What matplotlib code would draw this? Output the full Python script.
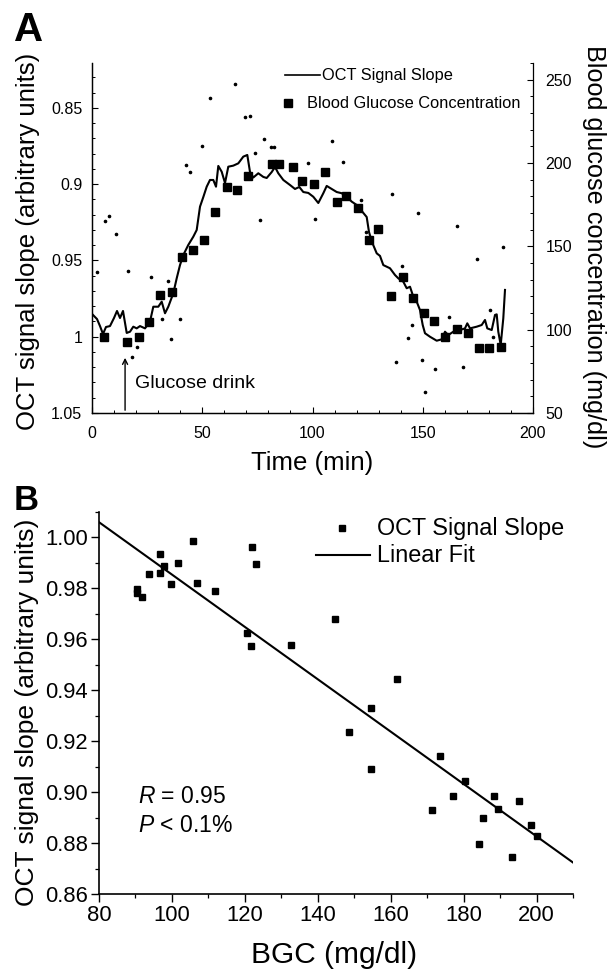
import numpy as np
import matplotlib
matplotlib.use("Agg")
import matplotlib.pyplot as plt
from matplotlib.ticker import MultipleLocator, FixedLocator

plt.rcParams['font.family'] = ['Liberation Sans', 'DejaVu Sans']
plt.rcParams['mathtext.fontset'] = 'custom'
plt.rcParams['mathtext.it'] = 'Liberation Sans:italic'
plt.rcParams['mathtext.rm'] = 'Liberation Sans'

# ---------------- Panel A data ----------------
oct_time = [0.45, 2.27, 3.63, 4.99, 6.35, 8.16, 9.98, 11.34, 12.70, 14.06, 15.74, 17.23,
            18.73, 20.27, 21.77, 24.04, 26.30, 27.80, 30.07, 31.61, 33.11, 34.60, 36.87,
            38.41, 39.91, 41.41, 43.67, 45.94, 47.48, 48.98, 50.48, 52.02, 53.51, 55.01,
            56.24, 57.28, 58.82, 60.32, 61.81, 64.08, 66.35, 68.62, 70.43, 71.66, 73.15,
            75.42, 77.69, 79.23, 81.50, 83.00, 84.49, 86.76, 89.80, 92.06, 94.01, 95.83,
            98.10, 100.36, 102.63, 104.90, 106.44, 108.71, 110.98, 113.24, 115.51, 117.78,
            120.05, 122.31, 124.58, 125.62, 126.98, 129.12, 130.61, 132.11, 135.15, 137.41,
            138.91, 141.18, 142.72, 144.22, 145.71, 147.26, 148.75, 149.98, 151.02, 153.29,
            156.33, 158.59, 160.09, 161.59, 163.85, 166.89, 169.16, 170.20, 171.43, 174.47,
            176.73, 178.23, 179.27, 181.27, 182.77, 183.54, 184.26, 185.35, 186.53, 187.30]
oct_slope = [0.9857, 0.9884, 0.9930, 0.9982, 0.9936, 0.9930, 0.9877, 0.9831, 0.9877, 0.9831,
             0.9975, 0.9967, 0.9934, 0.9945, 0.9930, 0.9945, 0.9901, 0.9803, 0.9803, 0.9770,
             0.9846, 0.9803, 0.9715, 0.9617, 0.9530, 0.9464, 0.9398, 0.9344, 0.9300, 0.9147,
             0.9084, 0.9016, 0.8972, 0.8972, 0.9016, 0.8880, 0.8918, 0.8992, 0.8885, 0.8878,
             0.8863, 0.8819, 0.8808, 0.8920, 0.8956, 0.8928, 0.8952, 0.8959, 0.8920, 0.8887,
             0.8928, 0.8972, 0.9005, 0.9031, 0.9018, 0.9051, 0.9057, 0.9082, 0.9123, 0.9059,
             0.9011, 0.9031, 0.9051, 0.9059, 0.9082, 0.9114, 0.9136, 0.9175, 0.9215, 0.9313,
             0.9379, 0.9453, 0.9470, 0.9530, 0.9551, 0.9595, 0.9617, 0.9639, 0.9682, 0.9672,
             0.9737, 0.9770, 0.9825, 0.9923, 0.9977, 1.0000, 1.0026, 1.0017, 0.9967, 0.9989,
             0.9967, 0.9956, 0.9945, 0.9912, 0.9945, 0.9934, 0.9923, 0.9890, 0.9945, 0.9956,
             0.9857, 0.9853, 0.9967, 1.0054, 0.9879, 0.9693]

raw_time = [5.90, 7.85, 10.79, 2.27, 16.46, 26.67, 34.47, 31.75, 40.05, 35.96, 20.50, 18.28,
            42.49, 44.44, 49.75, 53.33, 64.99, 69.39, 71.43, 73.92, 76.19, 78.14, 81.04,
            82.54, 98.10, 101.36, 109.07, 113.61, 122.22, 136.19, 147.80, 165.40, 124.26,
            174.47, 186.53, 140.45, 161.90, 180.32, 145.35, 143.17, 137.78, 149.66, 155.56,
            168.03, 151.20, 182.00]
raw_slope = [0.9241, 0.9211, 0.9326, 0.9573, 0.9567, 0.9606, 0.9634, 0.9884, 0.9884, 1.0013,
             1.0065, 1.0131, 0.8871, 0.8923, 0.8751, 0.8436, 0.8345, 0.8562, 0.8550, 0.8793,
             0.9234, 0.8701, 0.8759, 0.8759, 0.8863, 0.9225, 0.8714, 0.8857, 0.9103, 0.9062,
             0.9190, 0.9274, 0.9311, 0.9488, 0.9411, 0.9533, 0.9869, 0.9825, 0.9920, 1.0008,
             1.0166, 1.0152, 1.0211, 1.0198, 1.0360, 1.0000]

bgc_time = [5.6, 15.7, 21.4, 25.9, 30.9, 36.3, 40.8, 45.9, 50.8, 55.8, 61.2, 65.8, 70.7,
            81.6, 84.8, 91.3, 95.1, 100.7, 105.7, 110.9, 115.4, 120.6, 125.6, 129.9, 135.6,
            140.9, 145.7, 150.7, 155.2, 160.1, 165.4, 170.7, 175.5, 180.2, 185.3]
bgc_value = [95.5, 92.5, 95.5, 104.5, 120.7, 122.3, 143.3, 147.9, 153.9, 170.7, 185.4, 183.9,
             192.3, 199.5, 199.5, 197.6, 188.9, 187.4, 194.7, 176.5, 180.0, 172.9, 153.5,
             160.5, 120.3, 131.5, 118.9, 110.2, 105.4, 95.8, 100.3, 97.9, 88.9, 88.9, 89.8]

a_xticks = [0, 50, 100, 150, 200]
a_left_ticks = [0.85, 0.9, 0.95, 1.0, 1.05]
a_left_labels = ['0.85', '0.9', '0.95', '1', '1.05']
a_right_ticks = [50, 100, 150, 200, 250]
drink_time = 15

# ---------------- Panel B data ----------------
b_bgc = [90.4, 90.5, 91.7, 93.7, 96.8, 96.8, 97.9, 99.8, 101.8, 105.9, 106.8, 111.9, 120.6,
         121.7, 122.0, 123.0, 132.7, 144.7, 161.6, 154.5, 148.5, 154.5, 173.5, 180.3, 177.2,
         171.3, 188.3, 195.3, 189.4, 185.2, 198.4, 200.2, 184.2, 193.2]
b_slope = [0.9796, 0.9783, 0.9768, 0.9857, 0.9935, 0.9860, 0.9886, 0.9818, 0.9900, 0.9985,
           0.9823, 0.9790, 0.9626, 0.9573, 0.9964, 0.9896, 0.9576, 0.9678, 0.9444, 0.9331,
           0.9236, 0.9090, 0.9141, 0.9043, 0.8984, 0.8929, 0.8985, 0.8964, 0.8934, 0.8897,
           0.8869, 0.8827, 0.8797, 0.8745]
fit_intercept_at_80 = 1.0060
fit_slope = -0.001028
fit_x = [80, 210]
b_xticks = [80, 100, 120, 140, 160, 180, 200]
b_yticks = [0.86, 0.88, 0.90, 0.92, 0.94, 0.96, 0.98, 1.00]

# ---------------- Figure ----------------
fig = plt.figure(figsize=(6.08, 9.75), dpi=100)
W, H = 608, 975

def ax_rect(l, r, t, b):
    return [l / W, 1 - b / H, (r - l) / W, (b - t) / H]

# Panel A
ax = fig.add_axes(ax_rect(92, 533, 63, 413))
ax2 = ax.twinx()
ax.set_xlim(0, 200)
ax.set_ylim(1.05, 0.8205)
ax2.set_ylim(50, 260)

ax.plot(raw_time, raw_slope, linestyle='none', marker='o', ms=1.6, color='black', zorder=2)
ax.plot(oct_time, oct_slope, color='black', lw=1.5, zorder=3)
ax2.plot(bgc_time, bgc_value, linestyle='none', marker='s', ms=6.2, color='black', zorder=4)

ax.spines['top'].set_visible(False)
ax2.spines['top'].set_visible(False)
ax.spines['right'].set_visible(False)
for a in (ax, ax2):
    for s in a.spines.values():
        s.set_linewidth(0.9)

ax.xaxis.set_major_locator(FixedLocator(a_xticks))
ax.xaxis.set_minor_locator(MultipleLocator(10))
ax.yaxis.set_major_locator(FixedLocator(a_left_ticks))
ax.set_yticklabels(a_left_labels)
ax.yaxis.set_minor_locator(MultipleLocator(0.01))
ax2.yaxis.set_major_locator(FixedLocator(a_right_ticks))
ax2.yaxis.set_minor_locator(MultipleLocator(10))
ax.tick_params(axis='both', which='major', direction='in', length=4, width=0.8,
               labelsize=11.5, pad=7)
ax.tick_params(axis='both', which='minor', direction='in', length=2.2, width=0.7)
ax.tick_params(axis='x', which='major', pad=9)
ax2.tick_params(axis='y', which='major', direction='in', length=4, width=0.8,
                labelsize=11.5, pad=9)
ax2.tick_params(axis='y', which='minor', direction='in', length=2.2, width=0.7)

ax.annotate('', xy=(drink_time, 1.012), xytext=(drink_time, 1.05),
            arrowprops=dict(arrowstyle='->', color='black', lw=1.0, mutation_scale=9))
ax.text(19.5, 1.0305, 'Glucose drink', fontsize=14, va='center', ha='left')

# legend A
ax.plot([0.4376, 0.517], [0.9657, 0.9657], transform=ax.transAxes, color='black', lw=1.2,
        clip_on=False)
ax.text(0.5215, 0.9657, 'OCT Signal Slope', transform=ax.transAxes, fontsize=11.8,
        va='center', ha='left')
ax.plot([0.444], [0.8857], transform=ax.transAxes, marker='s', ms=5.5, color='black',
        linestyle='none', clip_on=False)
ax.text(0.4875, 0.8857, 'Blood Glucose Concentration', transform=ax.transAxes,
        fontsize=11.8, va='center', ha='left')

fig.text(312 / W, 1 - 463 / H, 'Time (min)', fontsize=18.5, ha='center', va='center')
fig.text(28 / W, 1 - 241 / H, 'OCT signal slope (arbitrary units)', fontsize=18.5,
         rotation=90, ha='center', va='center')
fig.text(594 / W, 1 - 247 / H, 'Blood glucose concentration (mg/dl)', fontsize=18.2,
         rotation=-90, ha='center', va='center')
fig.text(14 / W, 1 - 41 / H, 'A', fontsize=29, fontweight='bold', ha='left',
         va='baseline')

# Panel B
bx = fig.add_axes(ax_rect(99, 573, 512, 894))
bx.set_xlim(80, 210)
bx.set_ylim(0.86, 1.01)
bx.plot(b_bgc, b_slope, linestyle='none', marker='s', ms=5, color='black', zorder=3)
fx = np.array(fit_x, dtype=float)
bx.plot(fx, fit_intercept_at_80 + fit_slope * (fx - 80), color='black', lw=1.5, zorder=2)
bx.spines['top'].set_visible(False)
bx.spines['right'].set_visible(False)
for s in bx.spines.values():
    s.set_linewidth(1.2)
bx.xaxis.set_major_locator(FixedLocator(b_xticks))
bx.xaxis.set_minor_locator(MultipleLocator(10))
bx.yaxis.set_major_locator(FixedLocator(b_yticks))
bx.yaxis.set_minor_locator(MultipleLocator(0.01))
bx.set_yticklabels(['%.2f' % v for v in b_yticks])
bx.tick_params(axis='both', which='major', direction='out', length=5.5, width=1.0,
               labelsize=15.8, pad=2.5)
bx.tick_params(axis='both', which='minor', direction='out', length=3, width=0.9)

bx.plot([0.5127], [0.958], transform=bx.transAxes, marker='s', ms=5, color='black',
        linestyle='none', clip_on=False)
bx.text(0.5865, 0.958, 'OCT Signal Slope', transform=bx.transAxes, fontsize=16.8,
        va='center', ha='left')
bx.plot([0.4578, 0.5717], [0.8874, 0.8874], transform=bx.transAxes, color='black',
        lw=1.5, clip_on=False)
bx.text(0.5865, 0.8874, 'Linear Fit', transform=bx.transAxes, fontsize=16.8,
        va='center', ha='left')
bx.text(0.0823, 0.254, '$R$ = 0.95', transform=bx.transAxes, fontsize=16.5,
        va='center', ha='left')
bx.text(0.0823, 0.1806, '$P$ < 0.1%', transform=bx.transAxes, fontsize=16.5,
        va='center', ha='left')

fig.text(334 / W, 1 - 955 / H, 'BGC (mg/dl)', fontsize=21.5, ha='center', va='center')
fig.text(27 / W, 1 - 712 / H, 'OCT signal slope (arbitrary units)', fontsize=19,
         rotation=90, ha='center', va='center')
fig.text(14 / W, 1 - 510 / H, 'B', fontsize=25, fontweight='bold', ha='left',
         va='baseline')

fig.savefig('out.png', dpi=100)
